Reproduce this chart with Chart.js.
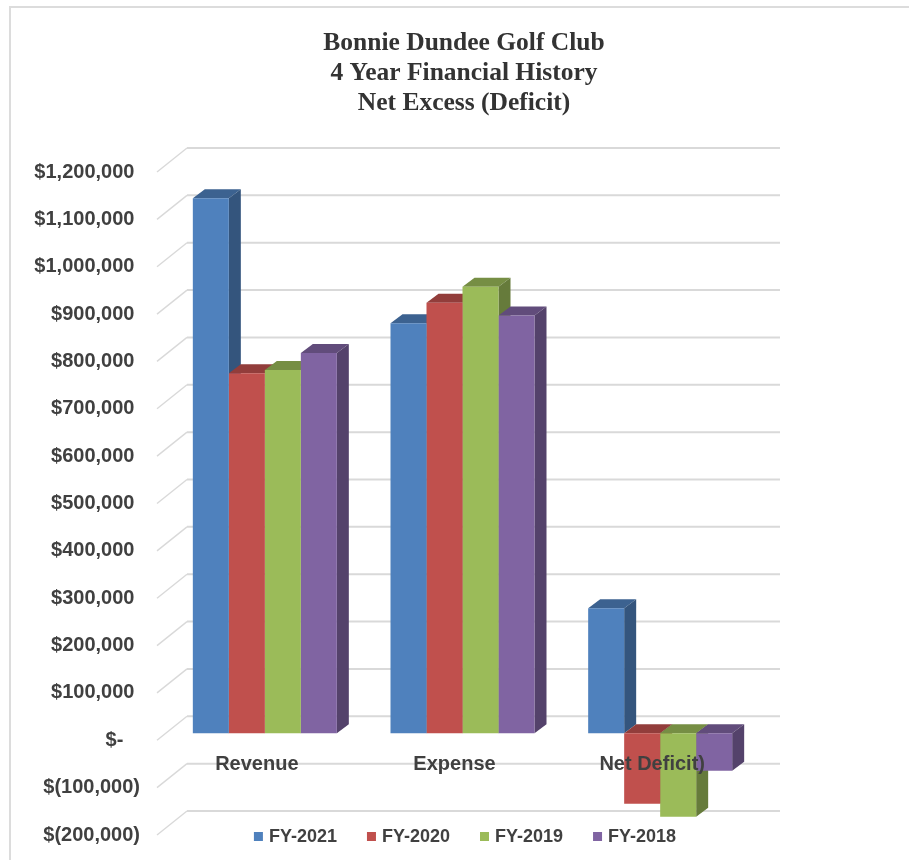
<!DOCTYPE html>
<html>
<head>
<meta charset="utf-8">
<title>Bonnie Dundee Golf Club</title>
<script src="https://cdn.jsdelivr.net/npm/chart.js@4.4.1/dist/chart.umd.min.js"></script>
<style>
  html, body { margin: 0; padding: 0; background: #fff; }
  #frame {
    position: absolute; left: 9px; top: 6px;
    width: 1000px; height: 1000px;
    border: 2px solid #dcdcdc; box-sizing: border-box;
  }
  #wrap { position: absolute; left: 0; top: 0; width: 909px; height: 860px; }
</style>
</head>
<body>
<div id="frame"></div>
<div id="wrap"><canvas id="chart"></canvas></div>
<script>
const titleLines = ["Bonnie Dundee Golf Club", "4 Year Financial History", "Net Excess (Deficit)"];
const categories = ["Revenue", "Expense", "Net Deficit)"];
const seriesNames = ["FY-2021", "FY-2020", "FY-2019", "FY-2018"];
const fy2021 = [1130000, 866000, 264000];
const fy2020 = [760000, 909000, -149000];
const fy2019 = [767000, 943000, -176000];
const fy2018 = [803000, 882000, -79000];
const yMin = -200000;
const yMax = 1200000;
const yStep = 100000;

const colors = ["#4F81BD", "#C0504D", "#9BBB59", "#8064A2"];
const textColor = "#404040";
const gridColor = "#d9d9d9";
const sansFont = '"Liberation Sans", Arial, sans-serif';

// depth of the fake 3d look
const barDx = 12, barDy = -9;
const frontDx = -9, frontDy = 7;
const backDx = 21, backDy = -17;

function shade(hex, f) {
  const n = parseInt(hex.slice(1), 16);
  const r = Math.round(((n >> 16) & 255) * f);
  const g = Math.round(((n >> 8) & 255) * f);
  const b = Math.round((n & 255) * f);
  return "rgb(" + r + "," + g + "," + b + ")";
}

// accounting style labels, like excel
function money(v) {
  if (v === 0) return "$-   ";
  const s = Math.abs(v).toLocaleString("en-US");
  return v < 0 ? "$(" + s + ")" : "$" + s + " ";
}

function poly(ctx, pts, fill) {
  ctx.beginPath();
  ctx.moveTo(pts[0][0], pts[0][1]);
  for (let i = 1; i < pts.length; i++) ctx.lineTo(pts[i][0], pts[i][1]);
  ctx.closePath();
  ctx.fillStyle = fill;
  ctx.fill();
}

const threeD = {
  id: "threeD",
  beforeDatasetsDraw(chart) {
    const { ctx, chartArea: area } = chart;
    const y = chart.scales.y;
    ctx.save();
    // floor diagonals + back wall lines
    ctx.strokeStyle = gridColor;
    y.ticks.forEach(t => {
      const py = y.getPixelForValue(t.value);
      ctx.lineWidth = 1.5;
      ctx.beginPath();
      ctx.moveTo(area.left + frontDx, py + frontDy);
      ctx.lineTo(area.left + backDx, py + backDy);
      ctx.stroke();
      ctx.lineWidth = 2;
      ctx.beginPath();
      ctx.moveTo(area.left + backDx, py + backDy);
      ctx.lineTo(area.right + backDx, py + backDy);
      ctx.stroke();
    });
    // top and side faces, left to right
    for (let i = 0; i < categories.length; i++) {
      chart.data.datasets.forEach((ds, d) => {
        const bar = chart.getDatasetMeta(d).data[i];
        const p = bar.getProps(["x", "y", "base", "width"], true);
        const x1 = p.x - p.width / 2, x2 = p.x + p.width / 2;
        const top = Math.min(p.y, p.base), bot = Math.max(p.y, p.base);
        poly(ctx, [[x1, top], [x1 + barDx, top + barDy], [x2 + barDx, top + barDy], [x2, top]], shade(colors[d], 0.76));
        poly(ctx, [[x2, top], [x2 + barDx, top + barDy], [x2 + barDx, bot + barDy], [x2, bot]], shade(colors[d], 0.66));
      });
    }
    ctx.restore();
  },
  afterDatasetsDraw(chart) {
    const { ctx } = chart;
    const x = chart.scales.x, y = chart.scales.y;
    const zero = y.getPixelForValue(0);
    ctx.save();
    ctx.fillStyle = textColor;
    ctx.font = "bold 20px " + sansFont;
    ctx.textAlign = "center";
    ctx.textBaseline = "middle";
    categories.forEach((c, i) => {
      ctx.fillText(c, x.getPixelForValue(i) - 8, zero + 31);
    });

    // legend
    ctx.font = "bold 18px " + sansFont;
    ctx.textAlign = "left";
    const box = 9, gap = 6, itemGap = 30;
    const widths = seriesNames.map(n => ctx.measureText(n).width);
    let total = 0;
    widths.forEach(w => { total += box + gap + w; });
    total += itemGap * (seriesNames.length - 1);
    let lx = 465 - total / 2;
    const ly = 837;
    seriesNames.forEach((n, i) => {
      ctx.fillStyle = colors[i];
      ctx.fillRect(lx, ly - box / 2 - 0.5, box, box);
      ctx.fillStyle = textColor;
      ctx.fillText(n, lx + box + gap, ly);
      lx += box + gap + widths[i] + itemGap;
    });

    // title
    ctx.fillStyle = "#333333";
    ctx.font = "bold 25.5px \"Liberation Serif\", \"Times New Roman\", serif";
    ctx.textAlign = "center";
    ctx.textBaseline = "alphabetic";
    titleLines.forEach((t, i) => ctx.fillText(t, 464, 50 + i * 30));
    ctx.restore();
  }
};

const seriesData = [fy2021, fy2020, fy2019, fy2018];

new Chart(document.getElementById("chart"), {
  type: "bar",
  data: {
    labels: categories,
    datasets: seriesData.map((vals, i) => ({
      label: seriesNames[i],
      data: vals,
      backgroundColor: colors[i],
      borderWidth: 0,
      categoryPercentage: 0.7285,
      barPercentage: 1
    }))
  },
  options: {
    responsive: true,
    maintainAspectRatio: false,
    animation: false,
    layout: { padding: { top: 165, bottom: 32, left: 0, right: 150 } },
    plugins: {
      legend: { display: false },
      title: { display: false },
      tooltip: { enabled: false }
    },
    scales: {
      x: { display: false },
      y: {
        min: yMin,
        max: yMax,
        // fixed axis width; label padding would otherwise eat the bottom
        afterFit: s => { s.width = 166; s.paddingTop = 0; s.paddingBottom = 0; },
        grid: { display: false, drawTicks: false },
        border: { display: false },
        ticks: {
          stepSize: yStep,
          autoSkip: false,
          padding: 26,
          labelOffset: 7,
          callback: money,
          color: textColor,
          font: { family: sansFont, size: 20, weight: "bold" }
        }
      }
    }
  },
  plugins: [threeD]
});
</script>
</body>
</html>
